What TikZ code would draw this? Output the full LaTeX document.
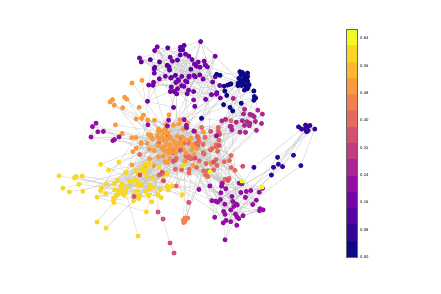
\documentclass[tikz,border=0pt]{standalone}
\usepackage{fontspec}
\setsansfont{DejaVu Sans}
\usetikzlibrary{positioning}
\definecolor{Band0}{HTML}{0D0887}\definecolor{Band1}{HTML}{350598}
\definecolor{Band2}{HTML}{5702A3}\definecolor{Band3}{HTML}{7504A7}
\definecolor{Band4}{HTML}{920FA2}\definecolor{Band5}{HTML}{AC2693}
\definecolor{Band6}{HTML}{C23C81}\definecolor{Band7}{HTML}{D45270}
\definecolor{Band8}{HTML}{E4695F}\definecolor{Band9}{HTML}{F1814D}
\definecolor{Band10}{HTML}{F99B3D}\definecolor{Band11}{HTML}{FCB82E}
\definecolor{Band12}{HTML}{F9D824}\definecolor{Band13}{HTML}{F0F921}
\definecolor{Wire}{HTML}{C6C6C6}
\pgfdeclarelayer{back}\pgfsetlayers{back,main}
\tikzset{dot/.style={circle,inner sep=0pt,minimum size=5pt,draw=none},
 link/.style={draw=Wire,line width=0.3pt},
 tick/.style={anchor=west,inner sep=0pt,font=\sffamily\fontsize{3.8}{4.5}\selectfont}}
% a cloud of dots: name, centre x, centre y, spread x, spread y, count, colour
\newcommand\blob[7]{\foreach \k in {1,...,#6}{%
 \pgfmathsetmacro\dx{#4*(rand+rand+rand)}\pgfmathsetmacro\dy{#5*(rand+rand+rand)}%
 \node[dot,fill=#7] (#1\k) at (#2+\dx,#3+\dy) {};}}
% links inside one cloud, never to itself
\newcommand\knit[2]{\foreach \k in {1,...,#2}{%
 \pgfmathtruncatemacro\j{mod(\k+random(1,#2-1)-1,#2)+1}%
 \draw[link] (#1\k) -- (#1\j);}}
% links from the first #2 dots of one cloud to random dots of another
\newcommand\wire[4]{\foreach \k in {1,...,#2}{%
 \pgfmathtruncatemacro\j{random(1,#4)}%
 \draw[link] (#1\k) -- (#3\j);}}

\begin{document}
\begin{tikzpicture}[x=1pt,y=-1pt]
\useasboundingbox (0,0) rectangle (441,294);
\pgfmathsetseed{11}
\blob{ring}{193}{156}{21}{15}{65}{Band8}
\blob{core}{168}{145}{16}{12}{85}{Band10}
\blob{sun}{136}{187}{20}{12}{75}{Band12}
\blob{west}{76}{181}{9}{5}{9}{Band12}
\blob{amber}{128}{112}{11}{13}{14}{Band10}
\blob{plum}{100}{136}{9}{6}{7}{Band4}
\blob{violet}{183}{76}{19}{15}{62}{Band3}
\blob{lilac}{168}{62}{14}{10}{15}{Band2}
\blob{deep}{230}{92}{13}{12}{20}{Band0}
\blob{navy}{243}{81}{4}{4}{28}{Band0}
\blob{isle}{306}{127}{4}{5}{10}{Band1}
\blob{trail}{275}{166}{12}{6}{8}{Band1}
\blob{rose}{245}{122}{17}{9}{26}{Band5}
\blob{mauve}{232}{205}{15}{14}{42}{Band4}
\blob{blush}{185}{165}{26}{22}{14}{Band7}
\blob{rust}{183}{219}{4}{2}{6}{Band9}
\blob{dusk}{165}{128}{25}{12}{10}{Band4}
\node[dot,fill=Band7] (p1) at (158,212){};\node[dot,fill=Band7] (p2) at (163,219){};
\node[dot,fill=Band7] (p3) at (170,243){};\node[dot,fill=Band7] (p4) at (174,253){};
\node[dot,fill=Band13] (y1) at (210,172){};\node[dot,fill=Band13] (y2) at (242,181){};
\node[dot,fill=Band13] (y3) at (262,187){};
\node[dot,fill=Band12] (s1) at (97,222){};\node[dot,fill=Band12] (s2) at (106,228){};
\node[dot,fill=Band12] (s3) at (138,236){};\node[dot,fill=Band10] (a1) at (132,83){};
\begin{pgfonlayer}{back}
\knit{core}{85}\wire{core}{60}{ring}{65}
\knit{ring}{65}\wire{ring}{40}{core}{85}
\knit{sun}{75}\wire{sun}{75}{core}{85}
\wire{west}{9}{sun}{75}\wire{amber}{14}{core}{85}
\knit{plum}{7}\wire{plum}{7}{core}{85}
\knit{violet}{62}\knit{violet}{62}\wire{violet}{12}{core}{85}
\wire{lilac}{15}{violet}{62}
\knit{navy}{28}\knit{navy}{28}\knit{navy}{28}
\wire{deep}{20}{navy}{28}\wire{deep}{14}{rose}{26}\wire{deep}{6}{core}{85}
\wire{navy}{6}{violet}{62}
\knit{isle}{10}\knit{isle}{10}\wire{trail}{8}{isle}{10}\wire{trail}{8}{mauve}{42}
\knit{rose}{26}\wire{rose}{26}{ring}{65}
\knit{mauve}{42}\wire{mauve}{42}{ring}{65}
\wire{blush}{14}{core}{85}\wire{rust}{6}{ring}{65}\wire{dusk}{10}{core}{85}
\draw[link] (p4) -- (p3) -- (p2) -- (p1) -- (core3);
\draw[link] (y1) -- (ring5) (y2) -- (mauve4) (y3) -- (mauve9);
\draw[link] (s1) -- (sun7) (s2) -- (sun12) (s3) -- (sun20) (a1) -- (core9);
\end{pgfonlayer}
% colour bar
\foreach \i in {0,...,13}
 \fill[Band\i] (346,{257-\i*16.29}) rectangle (357,{257-(\i+1)*16.29});
\draw[black!60,line width=0.4pt] (346,257) rectangle (357,29);
\foreach \v [count=\t from 0] in {0.00,0.08,0.16,0.24,0.32,0.40,0.48,0.56,0.64}
 \node[tick] (t\t) at (360,{257-\t*27.3}) {\v};
\end{tikzpicture}
\end{document}
